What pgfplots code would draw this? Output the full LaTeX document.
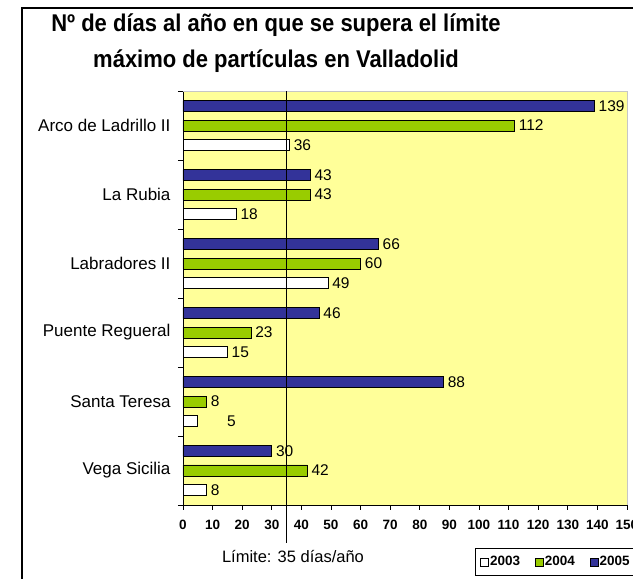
\documentclass[border=0pt]{standalone}
\usepackage{pgfplots}
\pgfplotsset{compat=1.18}
\usepackage{pgfplotstable}
\usepackage{fontspec}
\setmainfont{Liberation Sans}
\definecolor{plotbg}{HTML}{FFFF99}
\definecolor{c04}{HTML}{99CC00}
\definecolor{c05}{HTML}{333399}

% y: 0 Vega Sicilia ... 5 Arco de Ladrillo II
\pgfplotstableread{
y x dx
0 8 3
1 5 28
2 15 3
3 49 3
4 18 3
5 36 3
}\dataA
\pgfplotstableread{
y x dx
0 42 3
1 8 3
2 23 3
3 60 3
4 43 3
5 112 3
}\dataB
\pgfplotstableread{
y x dx
0 30 3
1 88 3
2 46 3
3 66 3
4 43 3
5 139 3
}\dataC

\begin{document}
\begin{tikzpicture}[x=1pt,y=1pt]
\path[use as bounding box] (0,0) rectangle (633,579);
\fill[white] (0,0) rectangle (633,579);
\draw[line width=1.5pt] (22,-5) -- (22,571) -- (645,571);
\node[font=\bfseries\fontsize{22}{26}\selectfont, anchor=base] at (276,547) {\scalebox{1}[1.1]{Nº de días al año en que se supera el límite}};
\node[font=\bfseries\fontsize{22}{26}\selectfont, anchor=base] at (276,511) {\scalebox{1}[1.1]{máximo de partículas en Valladolid}};
\begin{axis}[
  at={(183pt,74pt)}, anchor=south west,
  scale only axis, width=444pt, height=414pt,
  xbar, bar width=11pt,
  legend image code/.code={\draw[#1,line width=0.7pt] (0pt,-4pt) rectangle (8pt,4pt);},
  xmin=0, xmax=150, ymin=-0.5, ymax=5.5,
  clip=false,
  axis background/.style={fill=plotbg},
  axis x line*=bottom, axis y line*=left,
  axis line style={black, line width=0.8pt},
  xtick={0,10,...,150},
  ytick={0,...,5},
  yticklabels={Vega Sicilia, Santa Teresa, Puente Regueral, Labradores II, La Rubia, Arco de Ladrillo II},
  minor ytick={-0.5,0.5,...,5.5},
  tick align=outside,
  major tick length=5pt, minor tick length=5pt,
  tick style={black, line width=0.8pt},
  major y tick style={draw=none},
  /pgf/number format/assume math mode=true,
  xticklabel style={font=\bfseries\fontsize{13.5}{15}\selectfont, yshift=-7pt},
  yticklabel style={font=\fontsize{17}{20}\selectfont, xshift=-4pt},
  point meta=x,
  nodes near coords,
  visualization depends on={\thisrow{dx} \as \dx},
  every node near coord/.append style={font=\fontsize{15.5}{17}\selectfont, anchor=west, inner sep=1pt, xshift=\dx pt},
  legend columns=3,
  legend style={at={(0.6577,-0.1039)}, anchor=north west, draw=black, line width=0.8pt,
    font=\bfseries\fontsize{13.5}{15}\selectfont, inner xsep=5pt, inner ysep=6pt,
    nodes={inner xsep=1pt},
    /tikz/every even column/.append style={column sep=14pt}},
]
\addplot[fill=white, draw=black, line width=0.6pt, bar shift=-19.5pt] table[x=x,y=y] {\dataA};
\addplot[fill=c04, draw=black, line width=0.6pt, bar shift=0pt] table[x=x,y=y] {\dataB};
\addplot[fill=c05, draw=black, line width=0.6pt, bar shift=19.5pt] table[x=x,y=y] {\dataC};
\legend{2003,2004,2005}
\draw[gray!45, line width=0.8pt] (rel axis cs:0,1) -- (rel axis cs:1,1) -- (rel axis cs:1,0);
\draw[line width=1.8pt] (axis cs:35,5.5) -- ([yshift=-38pt]axis cs:35,-0.5);
\end{axis}
\node[font=\fontsize{16.5}{19}\selectfont] at (293,22) {Límite: 35 días/año};
\end{tikzpicture}
\end{document}
